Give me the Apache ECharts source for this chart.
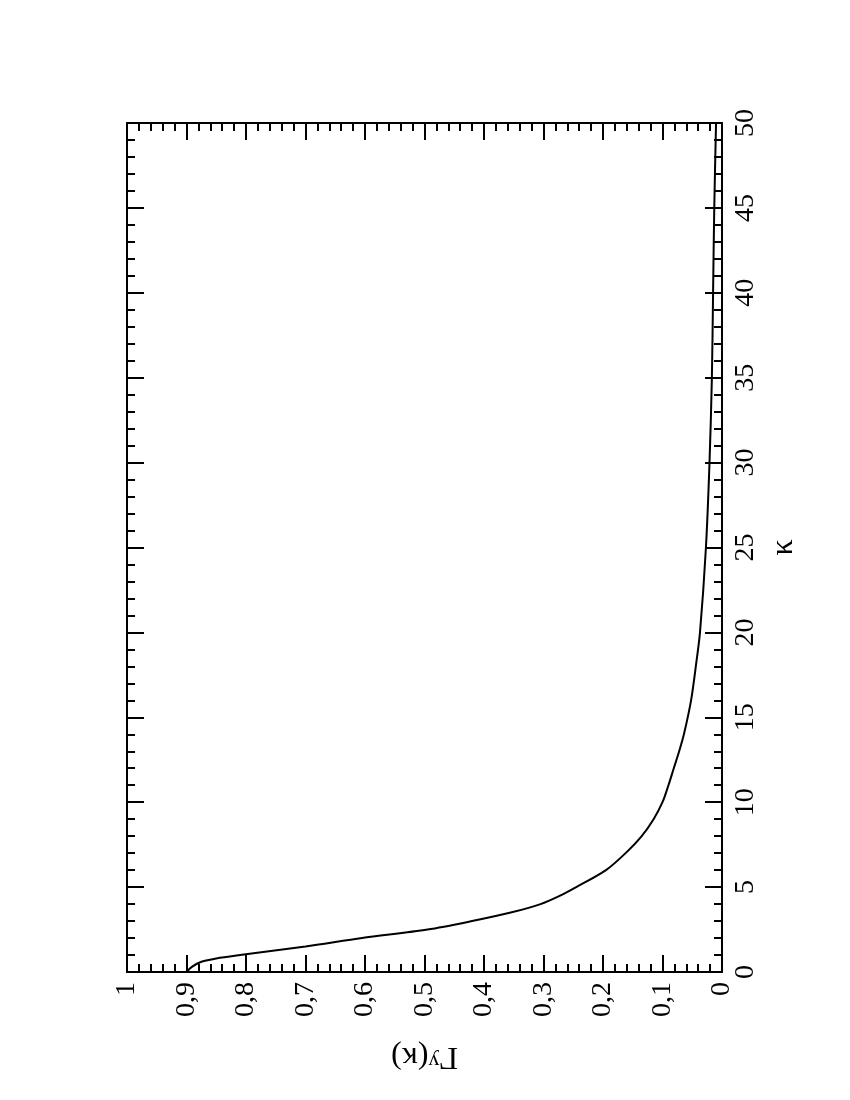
<!DOCTYPE html>
<html>
<head>
<meta charset="utf-8">
<script src="https://cdn.jsdelivr.net/npm/echarts@6/dist/echarts.min.js"></script>
<style>
    html, body { margin: 0; padding: 0; background: #fff; }
    #chart { width: 850px; height: 1100px; }
</style>
</head>
<body>
<div id="chart"></div>
<script>
    // kappa runs up the right side, Gamma along the bottom (plot is turned on its side)
    const kappa = [0, 0.3, 0.6, 0.8, 1, 1.5, 2, 2.5, 3, 3.5, 4, 4.5, 5, 6, 7, 8, 9, 10, 11, 12, 13, 14, 16, 18, 20, 25, 30, 35, 40, 45, 50]
    const gamma = [0.900, 0.891, 0.875, 0.850, 0.81, 0.70, 0.605, 0.495, 0.42, 0.355, 0.305, 0.272, 0.245, 0.195, 0.162, 0.135, 0.115, 0.100, 0.090, 0.081, 0.072, 0.064, 0.052, 0.044, 0.037, 0.027, 0.021, 0.017, 0.015, 0.013, 0.010]
    const gammaTicks = [0, 0.1, 0.2, 0.3, 0.4, 0.5, 0.6, 0.7, 0.8, 0.9, 1]
    const kappaTicks = [0, 5, 10, 15, 20, 25, 30, 35, 40, 45, 50]

    const font = 'Liberation Serif'
    const fmtGamma = v => {
        if (v === 0) return '0'
        if (v === 1) return '1'
        return v.toFixed(1).replace('.', ',')
    }

    const lineStyle = { color: '#000', width: 2 }
    const tickInside = {
        show: true, inside: true, length: 17,
        lineStyle: { color: '#000', width: 2 }
    }
    const minorInside = {
        show: true, splitNumber: 5, length: 8,
        lineStyle: { color: '#000', width: 2 }
    }

    const gammaAxis = (pos, showLabel) => ({
        type: 'value',
        position: pos,
        min: gammaTicks[0],
        max: gammaTicks[gammaTicks.length - 1],
        interval: 0.1,
        inverse: true,
        axisLine: { show: true, onZero: false, lineStyle: lineStyle },
        axisTick: tickInside,
        minorTick: minorInside,
        splitLine: { show: false },
        axisLabel: {
            show: showLabel, rotate: 90, margin: 10,
            fontFamily: font, fontSize: 28, color: '#000',
            formatter: fmtGamma
        }
    })

    const kappaAxis = (pos, showLabel) => ({
        type: 'value',
        position: pos,
        min: kappaTicks[0],
        max: kappaTicks[kappaTicks.length - 1],
        interval: 5,
        axisLine: { show: true, onZero: false, lineStyle: lineStyle },
        axisTick: tickInside,
        minorTick: minorInside,
        splitLine: { show: false },
        axisLabel: {
            show: showLabel, rotate: 90, margin: 10,
            fontFamily: font, fontSize: 28, color: '#000'
        }
    })

    let xMain = gammaAxis('bottom', true)
    xMain.name = '{g|Γ}{s|y}{g|(κ)}'
    xMain.nameLocation = 'middle'
    xMain.nameRotate = 180
    xMain.nameGap = 68
    xMain.nameTextStyle = {
        rich: {
            g: { fontFamily: font, fontSize: 32, color: '#000' },
            s: { fontFamily: font, fontSize: 22, color: '#000', verticalAlign: 'top' }
        }
    }

    let yMain = kappaAxis('right', true)
    yMain.name = 'κ'
    yMain.nameLocation = 'middle'
    yMain.nameRotate = 90
    yMain.nameGap = 30
    yMain.nameTextStyle = { fontFamily: font, fontSize: 32, color: '#000' }

    const option = {
        animation: false,
        backgroundColor: '#fff',
        grid: { left: 127, right: 128, top: 123, bottom: 128, containLabel: false },
        xAxis: [xMain, gammaAxis('top', false)],
        yAxis: [yMain, kappaAxis('left', false)],
        series: [{
            type: 'line',
            xAxisIndex: 0,
            yAxisIndex: 0,
            data: kappa.map((k, i) => [gamma[i], k]),
            showSymbol: false,
            smooth: 0.3,
            lineStyle: { color: '#000', width: 2 }
        }]
    }

    const chart = echarts.init(document.getElementById('chart'))
    chart.setOption(option)
</script>
</body>
</html>
